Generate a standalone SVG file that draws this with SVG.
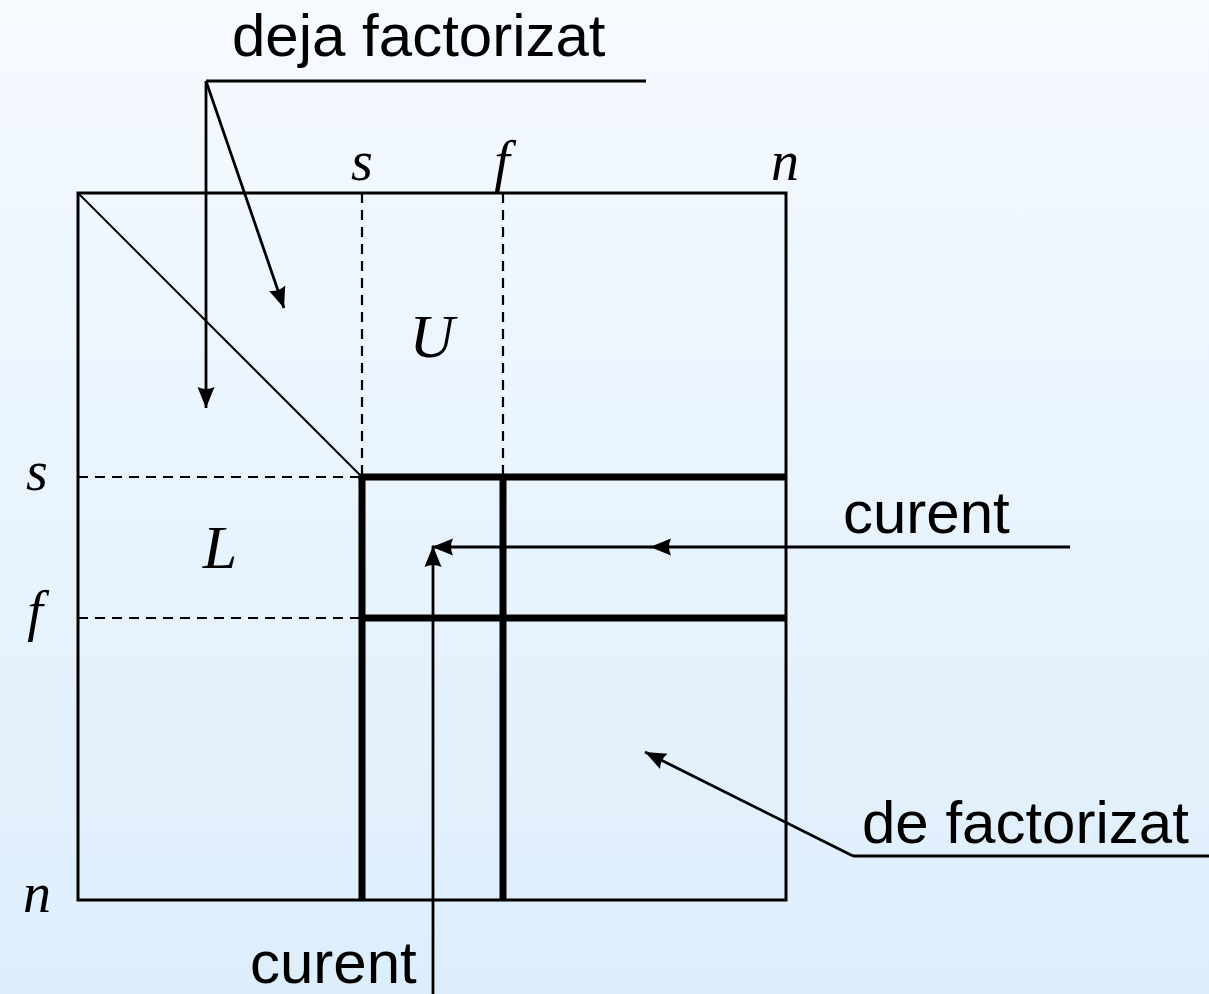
<svg xmlns="http://www.w3.org/2000/svg" width="1209" height="994" viewBox="0 0 1209 994">
<defs>
<linearGradient id="bg" x1="0" y1="0" x2="0" y2="1">
<stop offset="0" stop-color="#f5faff"/>
<stop offset="1" stop-color="#ddeefb"/>
</linearGradient>
<marker id="ah" markerUnits="userSpaceOnUse" viewBox="-24 -11 26 22" refX="0" refY="0" markerWidth="26" markerHeight="22" orient="auto">
<path d="M0,0 L-21,-8.5 Q-17,0 -21,8.5 Z" fill="#000"/>
</marker>
<style>
.thin{stroke:#000;stroke-width:3;fill:none}
.diag{stroke:#000;stroke-width:2;fill:none}
.dash{stroke:#000;stroke-width:2.2;stroke-dasharray:10 7;fill:none}
.thick{stroke:#000;stroke-width:7;fill:none}
.lead{stroke:#000;stroke-width:2.8;fill:none}
.lbl{font-family:"Liberation Sans",Arial,sans-serif;font-size:60px;fill:#000}
.math{font-family:"Liberation Serif","DejaVu Serif",serif;font-style:italic;font-size:56px;fill:#000}
.big{font-size:62px}
</style>
</defs>
<rect x="0" y="0" width="1209" height="994" fill="url(#bg)"/>
<g id="matrix">
<rect class="thin" x="78" y="193" width="708" height="707"/>
<line class="diag" x1="78" y1="193" x2="362" y2="477"/>
<line class="dash" x1="362" y1="193" x2="362" y2="477"/>
<line class="dash" x1="503" y1="193" x2="503" y2="477"/>
<line class="dash" x1="78" y1="477" x2="362" y2="477"/>
<line class="dash" x1="78" y1="618" x2="362" y2="618"/>
</g>
<g id="current-block">
<line class="thick" x1="358.5" y1="477" x2="786" y2="477"/>
<line class="thick" x1="362" y1="618" x2="786" y2="618"/>
<line class="thick" x1="362" y1="477" x2="362" y2="900"/>
<line class="thick" x1="503" y1="477" x2="503" y2="900"/>
</g>
<g id="labels-math">
<text class="math" x="362" y="180" text-anchor="middle">s</text>
<text class="math" x="502" y="180" text-anchor="middle">f</text>
<text class="math" x="785" y="180" text-anchor="middle">n</text>
<text class="math" x="37" y="490" text-anchor="middle">s</text>
<text class="math" x="35" y="630" text-anchor="middle">f</text>
<text class="math" x="37" y="912" text-anchor="middle">n</text>
<text class="math big" x="432" y="357" text-anchor="middle">U</text>
<text class="math big" x="220" y="568" text-anchor="middle">L</text>
</g>
<g id="connectors">
<line class="lead" x1="206" y1="81" x2="646" y2="81"/>
<line class="lead" x1="206" y1="81" x2="206" y2="408" marker-end="url(#ah)"/>
<line class="lead" x1="206" y1="81" x2="284" y2="308" marker-end="url(#ah)"/>
<line class="lead" x1="1070" y1="547" x2="650" y2="547" marker-end="url(#ah)"/>
<line class="lead" x1="651" y1="547" x2="432" y2="547" marker-end="url(#ah)"/>
<line class="lead" x1="433" y1="994" x2="433" y2="546" marker-end="url(#ah)"/>
<line class="lead" x1="1209" y1="856" x2="853" y2="856"/>
<line class="lead" x1="853" y1="856" x2="645" y2="752" marker-end="url(#ah)"/>
</g>
<g id="deja-factorizat"><text class="lbl" x="232" y="56">deja factorizat</text></g>
<g id="curent-right"><text class="lbl" x="843" y="533">curent</text></g>
<g id="curent-bottom"><text class="lbl" x="250" y="983">curent</text></g>
<g id="de-factorizat"><text class="lbl" x="862" y="843">de factorizat</text></g>
</svg>
